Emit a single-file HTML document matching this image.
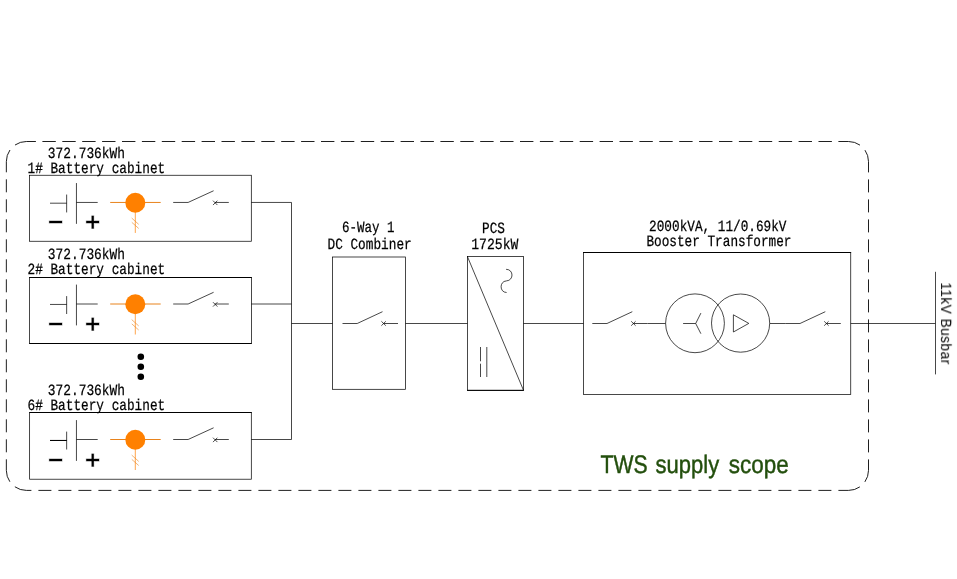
<!DOCTYPE html>
<html lang="en">
<head>
<meta charset="utf-8">
<title>TWS supply scope - single line diagram</title>
<style>
  html, body { margin: 0; padding: 0; background: #ffffff; }
  body { width: 957px; height: 579px; overflow: hidden; }
  svg { display: block; }
  text { text-rendering: geometricPrecision; }
  svg { will-change: transform; }
  .tx, text { mix-blend-mode: multiply; }
  .ln { stroke: #000; stroke-width: 0.72; fill: none; }
  .dash { stroke: #000; stroke-width: 0.88; fill: none; }
  .or { stroke: #ff8a1f; stroke-width: 1; fill: none; }
  .mono { font-family: "Liberation Mono", monospace; font-size: 15.7px; fill: #000; stroke: #000; stroke-width: 0.25px; }
  .sans { font-family: "Liberation Sans", sans-serif; fill: #000; }
  .sign { font-family: "Liberation Sans", sans-serif; font-weight: bold; fill: #000; }
</style>
</head>
<body>
<svg width="957" height="579" viewBox="0 0 957 579">
  <rect x="0" y="0" width="957" height="579" fill="#ffffff"/>

  <!-- dashed supply-scope frame -->
  <g class="dash">
    <line x1="26.35" y1="141.5" x2="848.5" y2="141.5" stroke-dasharray="13.4 6.5" stroke-dashoffset="3.85"/>
    <line x1="26.35" y1="490.4" x2="848.5" y2="490.4" stroke-dasharray="13 7" stroke-dashoffset="7.95"/>
    <line x1="6.35" y1="161.5" x2="6.35" y2="470.4" stroke-dasharray="13 7" stroke-dashoffset="2.2"/>
    <line x1="868.5" y1="161.5" x2="868.5" y2="470.4" stroke-dasharray="13 7" stroke-dashoffset="2.1"/>
    <path d="M6.35 161.5 A20 20 0 0 1 26.35 141.5" stroke-dasharray="12.2 7 12.3"/>
    <path d="M848.5 141.5 A20 20 0 0 1 868.5 161.5" stroke-dasharray="12.2 7 12.3"/>
    <path d="M868.5 470.4 A20 20 0 0 1 848.5 490.4" stroke-dasharray="12.2 7 12.3"/>
    <path d="M26.35 490.4 A20 20 0 0 1 6.35 470.4" stroke-dasharray="12.2 7 12.3"/>
  </g>

  <defs>
    <!-- battery cabinet contents, origin = (0, centre line) -->
    <g id="cab">
      <!-- battery cell -->
      <line class="ln" x1="66.65" y1="-7.9" x2="66.65" y2="10"/>
      <line class="ln" x1="76.45" y1="-19.4" x2="76.45" y2="21.4"/>
      <line class="ln" x1="76.45" y1="0" x2="97.7" y2="0"/>
      <!-- fuse / sensor (orange) -->
      <line class="or" x1="110.2" y1="0" x2="160.7" y2="0" style="stroke:#e8831c"/>
      <line class="or" x1="135.3" y1="0" x2="135.3" y2="30.5" style="stroke:#ffa64d"/>
      <circle cx="135.3" cy="0.3" r="10" fill="#ff8000"/>
      <line class="or" x1="131.7" y1="15.6" x2="138.7" y2="21.9" style="stroke:#e8831c;stroke-width:0.6"/>
      <line class="or" x1="131.8" y1="19.9" x2="138.7" y2="26" style="stroke:#e8831c;stroke-width:0.6"/>
      <!-- breaker -->
      <line class="ln" x1="173.2" y1="0" x2="188.1" y2="0"/>
      <line class="ln" x1="188.1" y1="0" x2="213.6" y2="-11.7"/>
      <line class="ln" x1="215.2" y1="0" x2="228.8" y2="0"/>
      <path class="ln" d="M213 -1.8 L217.4 2.6 M213 2.6 L217.4 -1.8" style="stroke-width:0.7"/>
    </g>
    <!-- generic breaker, origin = start of lead on centre line -->
    <g id="brk">
      <line class="ln" x1="0" y1="0" x2="14.7" y2="0"/>
      <line class="ln" x1="14.7" y1="0" x2="40" y2="-11.8"/>
      <line class="ln" x1="41.2" y1="0" x2="55.5" y2="0"/>
      <path class="ln" d="M38.9 -2.2 L43.3 2.2 M38.9 2.2 L43.3 -2.2" style="stroke-width:0.7"/>
    </g>
  </defs>

  <!-- three battery cabinets -->
  <rect class="ln" x="29.55" y="175.25" width="221.75" height="66"/>
  <rect class="ln" x="29.6" y="277.5" width="221.8" height="66"/>
  <rect class="ln" x="29.65" y="412.5" width="221.65" height="66.7"/>
  <line class="ln" x1="50" y1="203.2" x2="66.7" y2="203.2"/>
  <line class="ln" x1="50" y1="304.45" x2="66.7" y2="304.45"/>
  <line class="ln" x1="50" y1="440.45" x2="66.7" y2="440.45"/>
  <use href="#cab" x="0" y="202.45"/>
  <use href="#cab" x="0" y="304"/>
  <use href="#cab" x="0" y="439.5"/>

  <!-- heavier pixel-aligned strokes -->
  <path class="ln" style="stroke-width:1" d="M29.25 277.5 H251.75 M29.25 343.5 H251.75 M29.3 412.5 H251.65 M583.1 252.5 H851.1 M467.05 390.35 H523.85 M50 440.48 H66.7"/>

  <g class="tx">
  <!-- cabinet labels -->
  <text class="mono" x="47.8" y="157.6" textLength="77.2" lengthAdjust="spacingAndGlyphs">372.736kWh</text>
  <text class="mono" x="27.5" y="172.5" textLength="137.7" lengthAdjust="spacingAndGlyphs">1# Battery cabinet</text>
  <text class="mono" x="47.8" y="259.2" textLength="77.2" lengthAdjust="spacingAndGlyphs">372.736kWh</text>
  <text class="mono" x="27.5" y="274.3" textLength="137.7" lengthAdjust="spacingAndGlyphs">2# Battery cabinet</text>
  <text class="mono" x="47.8" y="395.2" textLength="77.2" lengthAdjust="spacingAndGlyphs">372.736kWh</text>
  <text class="mono" x="27.5" y="410.1" textLength="137.7" lengthAdjust="spacingAndGlyphs">6# Battery cabinet</text>

  <!-- polarity signs -->
  <g class="sign" font-size="27" text-anchor="middle" stroke="#fff" stroke-width="0.5">
    <text x="55.6" y="231.4">−</text><text x="92.55" y="231.4">+</text>
    <text x="55.6" y="333.2">−</text><text x="92.55" y="333.2">+</text>
    <text x="55.6" y="468.8">−</text><text x="92.55" y="468.8">+</text>
  </g>

  </g>

  <!-- continuation dots -->
  <circle cx="140.8" cy="356.8" r="3.3" fill="#000"/>
  <circle cx="140.8" cy="366.8" r="3.3" fill="#000"/>
  <circle cx="140.8" cy="376.8" r="3.3" fill="#000"/>

  <!-- DC collection bus -->
  <path class="ln" d="M251.3 202.45 H291.5 V439.5 H251.3"/>
  <line class="ln" x1="251.4" y1="304" x2="291.5" y2="304"/>
  <line class="ln" x1="291.5" y1="323.5" x2="332.5" y2="323.5"/>

  <!-- DC combiner -->
  <text class="mono" x="341.9" y="232.2" textLength="52.5" lengthAdjust="spacingAndGlyphs">6-Way 1</text>
  <text class="mono" x="327.5" y="248.9" textLength="84.2" lengthAdjust="spacingAndGlyphs">DC Combiner</text>
  <rect class="ln" x="332.5" y="257" width="73.05" height="132.3"/>
  <use href="#brk" x="342.5" y="323.5"/>
  <line class="ln" x1="405.55" y1="323.5" x2="467.4" y2="323.5"/>

  <!-- PCS -->
  <text class="mono" x="482.1" y="232.6" textLength="22.9" lengthAdjust="spacingAndGlyphs">PCS</text>
  <text class="mono" x="471.2" y="249.4" textLength="47.2" lengthAdjust="spacingAndGlyphs">1725kW</text>
  <rect class="ln" x="467.4" y="256.5" width="56.1" height="133.8"/>
  <line class="ln" x1="467.4" y1="256.5" x2="523.5" y2="390.3"/>
  <path class="ln" d="M506.1 269.3 C513.9 269.3 513.9 280.6 506.4 280.9 C499.3 281.2 499.3 292.5 506.6 292.5"/>
  <line class="ln" x1="480.5" y1="347" x2="480.5" y2="377" stroke-dasharray="14.3 2.4"/>
  <line class="ln" x1="486.8" y1="347" x2="486.8" y2="377"/>
  <line class="ln" x1="523.5" y1="323.5" x2="583.45" y2="323.5"/>

  <!-- booster transformer -->
  <text class="mono" x="649.1" y="230.5" textLength="137.4" lengthAdjust="spacingAndGlyphs">2000kVA, 11/0.69kV</text>
  <text class="mono" x="646.4" y="246.3" textLength="145.1" lengthAdjust="spacingAndGlyphs">Booster Transformer</text>
  <rect class="ln" x="583.45" y="252.45" width="267.3" height="141.95"/>
  <use href="#brk" x="592.3" y="323.5"/>
  <line class="ln" x1="648" y1="323.5" x2="665.5" y2="323.5"/>
  <circle class="ln" cx="695" cy="323.3" r="29.4"/>
  <circle class="ln" cx="740.6" cy="323.1" r="29.1"/>
  <path class="ln" d="M683.1 323.5 H695.7 M700.9 313.1 L695.7 323.5 L700.9 333.7"/>
  <path class="ln" d="M733.4 314.8 V332 L748.8 323.4 Z"/>
  <line class="ln" x1="770" y1="323.5" x2="785.3" y2="323.5"/>
  <use href="#brk" x="785.3" y="323.5"/>
  <line class="ln" x1="850.7" y1="323.5" x2="935.3" y2="323.5"/>

  <!-- 11kV busbar -->
  <line class="ln" x1="935.5" y1="271.8" x2="935.5" y2="374.4"/>
  <text class="sans" font-size="14.8" letter-spacing="0.45" transform="translate(941.1 282.4) rotate(90)" textLength="82.2" lengthAdjust="spacingAndGlyphs">11kV Busbar</text>

  <!-- scope caption -->
  <text class="sans" y="472.5" font-size="25.3" style="fill:#234f0d;stroke:#234f0d;stroke-width:0.45px"><tspan x="600.6" textLength="47" lengthAdjust="spacingAndGlyphs">TWS</tspan> <tspan x="655.6" textLength="63.6" lengthAdjust="spacingAndGlyphs">supply</tspan> <tspan x="728.8" textLength="60" lengthAdjust="spacingAndGlyphs">scope</tspan></text>
</svg>
</body>
</html>
